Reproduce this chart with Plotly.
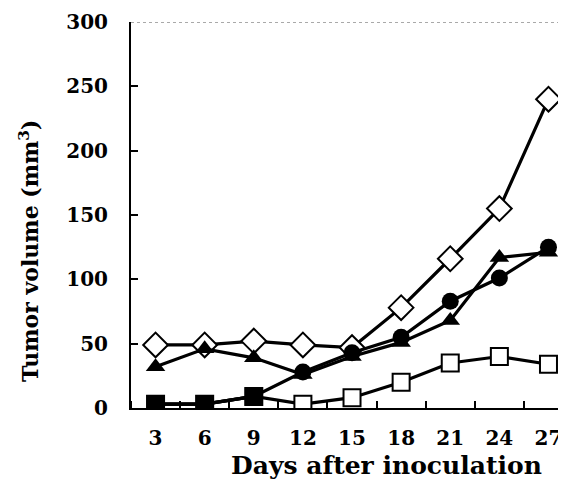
import plotly.graph_objects as go

days = [3, 6, 9, 12, 15, 18, 21, 24, 27]
open_diamond = [49, 49, 52, 49, 47, 78, 116, 155, 240]
filled_triangle = [32, 46, 39, 26, 40, 51, 68, 117, 121]
filled_circle = [3, 3, 9, 28, 43, 55, 83, 101, 125]
open_square = [3, 3, 9, 3, 8, 20, 35, 40, 34]
filled_square_days = [3, 6, 9]
filled_square = [3, 3, 9]

x_ticks = [3, 6, 9, 12, 15, 18, 21, 24, 27]
x_minor = [1.5, 4.5, 7.5, 10.5, 13.5, 16.5, 19.5, 22.5, 25.5]
y_ticks = [0, 50, 100, 150, 200, 250, 300]

FONT = "DejaVu Serif"
LW = 3.2
OFF = 8  # page body margin

# target screen geometry of the plot area
L, R, T, B = 131, 566, 22, 408
PW, PH = R - L, B - T

fig = go.Figure()
fig.add_trace(go.Scatter(x=days, y=open_diamond, mode="lines+markers",
                         line=dict(color="black", width=LW),
                         marker=dict(symbol="diamond", size=19, color="white",
                                     line=dict(color="black", width=2))))
fig.add_trace(go.Scatter(x=days, y=open_square, mode="lines+markers",
                         line=dict(color="black", width=LW),
                         marker=dict(symbol="square", size=17, color="white",
                                     line=dict(color="black", width=2))))
fig.add_trace(go.Scatter(x=days, y=filled_triangle, mode="lines+markers",
                         line=dict(color="black", width=LW),
                         marker=dict(symbol="triangle-up", size=17, color="black")))
fig.add_trace(go.Scatter(x=days, y=filled_circle, mode="lines+markers",
                         line=dict(color="black", width=LW),
                         marker=dict(symbol="circle", size=17, color="black")))
fig.add_trace(go.Scatter(x=filled_square_days, y=filled_square, mode="lines+markers",
                         line=dict(color="black", width=LW),
                         marker=dict(symbol="square", size=18, color="black")))

fig.add_shape(type="line", xref="paper", x0=0, x1=1, yref="y", y0=300, y1=300,
              line=dict(color="#555555", width=1, dash="dot"))

W, H = 566 - OFF, 481 - OFF
fig.update_layout(
    width=W, height=H,
    margin=dict(l=L - OFF, r=W - (R - OFF), t=T - OFF, b=H - (B - OFF), pad=0),
    plot_bgcolor="white", paper_bgcolor="white",
    showlegend=False,
    font=dict(family=FONT, color="black", size=20),
    xaxis=dict(range=[1.5, 28.07], tickvals=x_ticks, ticktext=[str(v) for v in x_ticks],
               ticks="", showgrid=False, zeroline=False,
               showline=True, linecolor="black", linewidth=2,
               tickfont=dict(family=FONT, size=20, weight="bold"),
               ticklabelstandoff=11,
               minor=dict(tickvals=x_minor, ticks="inside", ticklen=7,
                          tickcolor="black", tickwidth=1.5, showgrid=False)),
    yaxis=dict(range=[0, 300], tickvals=y_ticks, ticks="inside", ticklen=7,
               tickcolor="black", tickwidth=1.5,
               showgrid=False, zeroline=False,
               showline=True, linecolor="black", linewidth=2,
               tickfont=dict(family=FONT, size=20, weight="bold"),
               ticklabelstandoff=17),
    annotations=[
        dict(text="<b>Days after inoculation</b>", xref="paper", yref="paper",
             x=(386 - L) / PW, y=-(465 - B) / PH, xanchor="center", yanchor="middle",
             showarrow=False, font=dict(family=FONT, size=25, color="black")),
        dict(text="<b>Tumor volume (mm<sup>3</sup>)</b>", xref="paper", yref="paper",
             x=-(L - 29) / PW, y=(B - 251) / PH, xanchor="center", yanchor="middle",
             textangle=-90, showarrow=False, font=dict(family=FONT, size=22, color="black")),
    ],
)

fig.write_html("out.html")
